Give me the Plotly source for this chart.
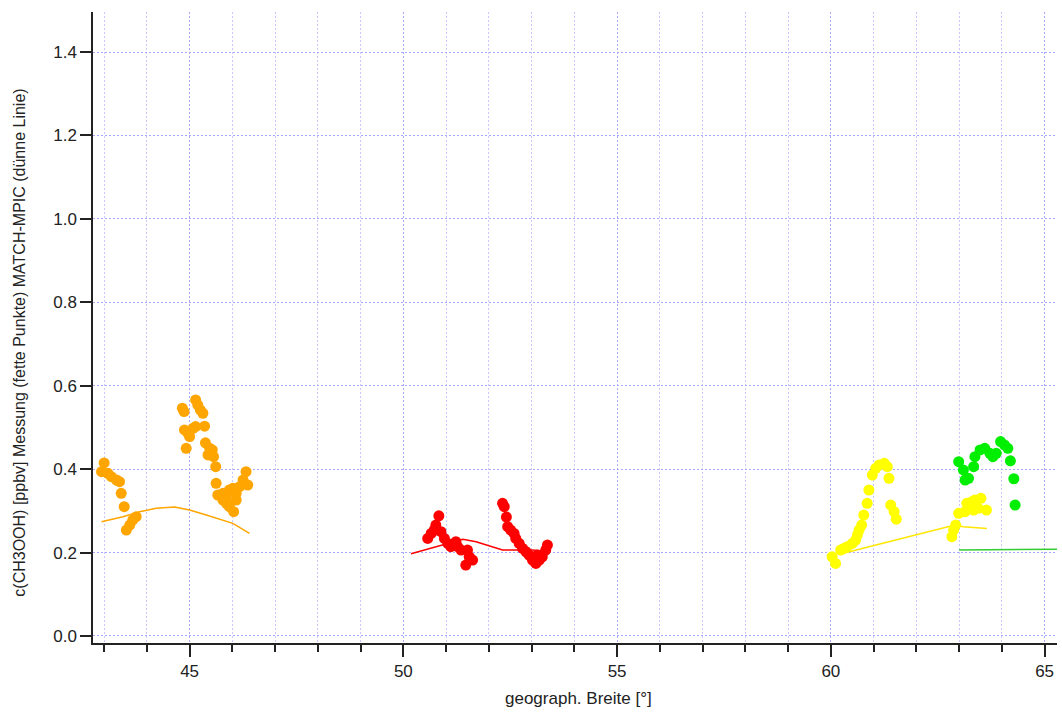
import plotly.graph_objects as go

# Measured CH3OOH (ppbv) along latitude, one group per flight section
orange_lat = [42.94, 43.0, 43.09, 43.17, 43.29, 43.36, 43.4, 43.47, 43.52, 43.6, 43.67, 43.75,
              44.83, 44.87, 44.88, 44.92, 44.96, 45.0, 45.08, 45.14, 45.14, 45.19, 45.25, 45.31,
              45.35, 45.37, 45.43, 45.47, 45.53, 45.56, 45.61, 45.62, 45.66, 45.78, 45.78, 45.86,
              45.86, 45.93, 45.93, 46.01, 46.03, 46.09, 46.09, 46.17, 46.25, 46.32, 46.36]
orange_val = [0.394, 0.415, 0.39, 0.382, 0.374, 0.37, 0.342, 0.31, 0.254, 0.266, 0.278, 0.286,
              0.546, 0.538, 0.494, 0.45, 0.486, 0.478, 0.498, 0.502, 0.566, 0.554, 0.542, 0.534,
              0.503, 0.463, 0.434, 0.45, 0.446, 0.43, 0.406, 0.366, 0.338, 0.342, 0.326, 0.334,
              0.318, 0.35, 0.31, 0.354, 0.298, 0.342, 0.326, 0.358, 0.374, 0.394, 0.362]

red_lat = [50.57, 50.65, 50.72, 50.76, 50.83, 50.88, 50.96, 51.04, 51.11, 51.23, 51.27, 51.35,
           51.46, 51.5, 51.54, 51.62,
           52.32, 52.36, 52.41, 52.44, 52.51, 52.59, 52.63, 52.71, 52.79, 52.87, 52.94, 53.02,
           53.1, 53.14, 53.18, 53.25, 53.33, 53.37]
red_val = [0.234, 0.246, 0.254, 0.266, 0.288, 0.25, 0.234, 0.222, 0.214, 0.226, 0.214, 0.206,
           0.17, 0.206, 0.19, 0.182,
           0.318, 0.31, 0.285, 0.262, 0.254, 0.246, 0.234, 0.222, 0.21, 0.202, 0.194, 0.182,
           0.174, 0.194, 0.182, 0.19, 0.206, 0.218]

yellow_lat = [60.03, 60.11, 60.23, 60.3, 60.38, 60.5, 60.58, 60.62, 60.66, 60.72, 60.77, 60.85,
              60.89, 60.97, 61.05, 61.13, 61.25, 61.32, 61.36, 61.4, 61.48, 61.53,
              62.83, 62.87, 62.92, 62.99, 63.14, 63.18, 63.3, 63.34, 63.37, 63.45, 63.51, 63.64]
yellow_val = [0.19, 0.174, 0.206, 0.21, 0.214, 0.222, 0.23, 0.242, 0.254, 0.266, 0.29, 0.318,
              0.35, 0.386, 0.402, 0.41, 0.414, 0.406, 0.378, 0.314, 0.298, 0.28,
              0.238, 0.254, 0.266, 0.294, 0.298, 0.318, 0.322, 0.302, 0.326, 0.306, 0.33, 0.302]

green_lat = [62.99, 63.1, 63.14, 63.22, 63.34, 63.37, 63.49, 63.6, 63.72, 63.79, 63.87, 63.97,
             64.06, 64.14, 64.2, 64.28, 64.31]
green_val = [0.418, 0.398, 0.374, 0.378, 0.406, 0.43, 0.446, 0.45, 0.438, 0.43, 0.438, 0.466,
             0.458, 0.45, 0.42, 0.377, 0.314]

# MATCH-MPIC model values along the same tracks
orange_model_lat = [42.94, 43.44, 43.83, 44.22, 44.65, 45.0, 45.39, 46.01, 46.4]
orange_model_val = [0.274, 0.286, 0.298, 0.306, 0.309, 0.302, 0.29, 0.27, 0.246]

red_model_lat = [50.18, 50.92, 51.39, 51.7, 52.32, 53.02, 53.26]
red_model_val = [0.197, 0.218, 0.232, 0.226, 0.206, 0.206, 0.204]

yellow_model_lat = [60.2, 62.9, 63.1, 63.65]
yellow_model_val = [0.196, 0.266, 0.262, 0.258]

green_model_lat = [63.0, 65.3]
green_model_val = [0.206, 0.208]

y_ticks = [0.0, 0.2, 0.4, 0.6, 0.8, 1.0, 1.2, 1.4]
x_ticks = [45, 50, 55, 60, 65]

ORANGE = "#FFA500"
RED = "#FF0000"
YELLOW = "#FFFF00"
GREEN = "#00EE00"

fig = go.Figure()

for lat, val, col in [(orange_model_lat, orange_model_val, ORANGE),
                      (red_model_lat, red_model_val, RED),
                      (yellow_model_lat, yellow_model_val, "#FFE600"),
                      (green_model_lat, green_model_val, "#33CC33")]:
    fig.add_trace(go.Scatter(x=lat, y=val, mode="lines",
                             line=dict(color=col, width=1.5), showlegend=False))

for lat, val, col in [(orange_lat, orange_val, ORANGE),
                      (red_lat, red_val, RED),
                      (yellow_lat, yellow_val, YELLOW),
                      (green_lat, green_val, GREEN)]:
    fig.add_trace(go.Scatter(x=lat, y=val, mode="markers",
                             marker=dict(color=col, size=11, line=dict(width=0)),
                             showlegend=False))

major_grid = "#a8a8ff"
minor_grid = "#c8c8ff"
grid_dash = "2px,2px"
fig.update_layout(
    width=1062, height=712,
    margin=dict(l=93, r=5, t=12, b=69),
    paper_bgcolor="white", plot_bgcolor="white",
    font=dict(family="Liberation Sans, Arial, sans-serif", size=17, color="#222222"),
    xaxis=dict(range=[42.74, 65.29], tickmode="array", tickvals=x_ticks,
               ticktext=[str(v) for v in x_ticks],
               showline=True, linecolor="#222222", linewidth=1.5, mirror=False,
               ticks="outside", ticklen=12, tickwidth=1.5, tickcolor="#222222",
               showgrid=True, gridcolor=major_grid, griddash=grid_dash, gridwidth=1,
               zeroline=False,
               minor=dict(dtick=1, tick0=0, ticks="outside", ticklen=7, tickwidth=1.5,
                          tickcolor="#222222", showgrid=True, gridcolor=minor_grid,
                          griddash=grid_dash, gridwidth=1)),
    yaxis=dict(range=[-0.0168, 1.496], tickmode="array", tickvals=y_ticks,
               ticktext=[f"{v:.1f}" for v in y_ticks],
               showline=True, linecolor="#222222", linewidth=1.5,
               ticks="outside", ticklen=11, tickwidth=1.5, tickcolor="#222222",
               showgrid=True, gridcolor=major_grid, griddash=grid_dash, gridwidth=1,
               zeroline=False),
    annotations=[
        dict(text="geograph. Breite [°]", xref="paper", yref="paper",
             x=0.504, y=-0.0872, xanchor="center", yanchor="middle",
             showarrow=False, font=dict(size=17)),
        dict(text="c(CH3OOH) [ppbv] Messung (fette Punkte) MATCH-MPIC (dünne Linie)",
             xref="paper", yref="paper", x=-0.0757, y=0.476, textangle=-90,
             xanchor="center", yanchor="middle", showarrow=False, font=dict(size=16)),
    ],
)

fig.write_html("out.html")
